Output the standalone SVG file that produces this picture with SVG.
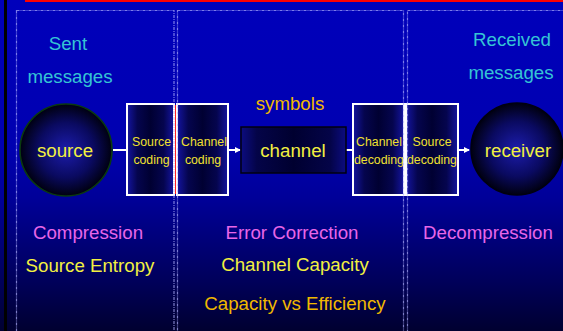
<svg xmlns="http://www.w3.org/2000/svg" width="563" height="331" viewBox="0 0 563 331">
<style>
text{font-family:"Liberation Sans",Arial,sans-serif;text-anchor:middle}
.big{font-size:18.7px}
.small{font-size:12.3px;fill:#f0e030}
.cyan{fill:#35c4d4}
.mag{fill:#e866e8}
.yel{fill:#f2f040}
.ora{fill:#f0b800}
.panel{fill:none;stroke:#b0b0ff;stroke-opacity:0.7;stroke-width:1.2;stroke-dasharray:3 1 1 1}
.box{fill:url(#boxg);stroke:#ffffff;stroke-width:2}
.conn{stroke:#ffffff;stroke-width:2;fill:none}
</style>
<defs>
<linearGradient id="bg" x1="0" y1="0" x2="0" y2="1">
<stop offset="0" stop-color="#0000bb"/>
<stop offset="0.45" stop-color="#0000b0"/>
<stop offset="0.6" stop-color="#000098"/>
<stop offset="0.85" stop-color="#00005a"/>
<stop offset="1" stop-color="#000030"/>
</linearGradient>
<radialGradient id="circg" cx="0.5" cy="0.5" r="0.5">
<stop offset="0" stop-color="#1c1cac"/>
<stop offset="0.6" stop-color="#0a0a60"/>
<stop offset="1" stop-color="#000010"/>
</radialGradient>
<linearGradient id="boxg" x1="0" y1="0" x2="1" y2="0">
<stop offset="0" stop-color="#1414a0"/>
<stop offset="0.22" stop-color="#05054e"/>
<stop offset="0.5" stop-color="#000032"/>
<stop offset="0.78" stop-color="#05054e"/>
<stop offset="1" stop-color="#1414a0"/>
</linearGradient>
<linearGradient id="chg" x1="0" y1="0" x2="1" y2="0">
<stop offset="0" stop-color="#0c0c80"/>
<stop offset="0.15" stop-color="#040448"/>
<stop offset="0.5" stop-color="#000030"/>
<stop offset="0.85" stop-color="#040448"/>
<stop offset="1" stop-color="#0c0c80"/>
</linearGradient>
<marker id="arr" markerWidth="6" markerHeight="6" refX="5" refY="3" orient="auto" markerUnits="userSpaceOnUse">
<path d="M0,0 L6,3 L0,6 Z" fill="#ffffff"/>
</marker>
</defs>
<rect x="0" y="0" width="563" height="331" fill="url(#bg)"/>
<rect x="4" y="0" width="3" height="331" fill="#000000"/>
<rect x="25" y="0" width="538" height="2" fill="#ff0000"/>

<g id="connectors">
<line class="conn" x1="113" y1="150" x2="127" y2="150"/>
<line class="conn" x1="228" y1="150" x2="240" y2="150" marker-end="url(#arr)"/>
<line class="conn" x1="346" y1="150" x2="353" y2="150"/>
<line class="conn" x1="458" y1="150" x2="469" y2="150" marker-end="url(#arr)"/>
</g>

<g id="source">
<circle cx="66" cy="150" r="46" fill="url(#circg)" stroke="#0a3a10" stroke-width="1.6"/>
<text class="big yel" x="65" y="157">source</text>
</g>
<g id="source-coding">
<rect class="box" x="127" y="104" width="47" height="91"/>
<text class="small" x="151.5" y="146">Source</text>
<text class="small" x="151.5" y="164">coding</text>
</g>
<rect x="175" y="105" width="2" height="89" fill="#ff2020"/>
<g id="channel-coding">
<rect class="box" x="177" y="104" width="51" height="91"/>
<text class="small" x="204" y="146">Channel</text>
<text class="small" x="203" y="164">coding</text>
</g>
<g id="channel">
<rect x="241" y="127" width="105" height="46" fill="url(#chg)" stroke="#000010" stroke-width="1.5"/>
<text class="big yel" x="293" y="157">channel</text>
</g>
<g id="channel-decoding">
<rect class="box" x="353" y="104" width="51" height="91"/>
<text class="small" x="379" y="146">Channel</text>
<text class="small" x="379" y="164">decoding</text>
</g>
<g id="source-decoding">
<rect class="box" x="406" y="104" width="52" height="91"/>
<text class="small" x="432" y="146">Source</text>
<text class="small" x="432" y="164">decoding</text>
</g>
<g id="receiver">
<circle cx="517" cy="149" r="46" fill="url(#circg)" stroke="#000010" stroke-width="1.6"/>
<text class="big yel" x="518" y="157">receiver</text>
</g>

<text class="big cyan" x="68" y="50">Sent</text>
<text class="big cyan" x="70" y="83">messages</text>
<text class="big cyan" x="512" y="46">Received</text>
<text class="big cyan" x="511" y="79">messages</text>
<text class="big ora" x="290" y="110">symbols</text>

<text class="big mag" x="88" y="239">Compression</text>
<text class="big yel" x="90" y="272">Source Entropy</text>
<text class="big mag" x="292" y="239">Error Correction</text>
<text class="big yel" x="295" y="271">Channel Capacity</text>
<text class="big ora" x="295" y="310">Capacity vs Efficiency</text>
<text class="big mag" x="488" y="239">Decompression</text>

<g id="panels">
<rect class="panel" x="16.5" y="10.5" width="157.5" height="330"/>
<rect class="panel" x="177.5" y="10.5" width="226" height="330"/>
<rect class="panel" x="407.5" y="10.5" width="170" height="330"/>
</g>
</svg>
